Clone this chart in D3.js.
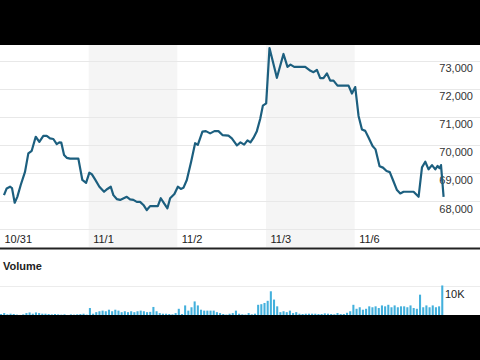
<!DOCTYPE html>
<html>
<head>
<meta charset="utf-8">
<script src="https://cdn.jsdelivr.net/npm/d3@7"></script>
<style>
  html, body { margin: 0; padding: 0; background: #000; }
  svg { display: block; }
  text { font-family: "Liberation Sans", Arial, sans-serif; }
</style>
</head>
<body>
<svg id="chart" width="480" height="360"></svg>
<script>
// trading days shown on the x axis (weekend skipped between 11/3 and 11/6)
const days = ["10/31", "11/1", "11/2", "11/3", "11/6"];

// price line: hours since start of 10/31 session (24 per day) and price
const priceHours = [1.08, 1.81, 2.71, 3.25, 3.98, 4.69, 5.61, 6.77, 7.67, 8.59,
  9.67, 10.65, 11.73, 12.65, 13.54, 14.44, 15.36, 16.06, 16.6, 17.34,
  18.07, 18.96, 21.21, 22.29, 23.3, 24.19, 24.84, 25.73, 26.9, 28.17,
  29.07, 29.99, 30.69, 31.61, 32.51, 34.32, 35.21, 36.11, 37.03, 37.92,
  38.82, 39.74, 40.63, 42.72, 43.53, 44.42, 45.32, 46.05, 47.21, 48.14,
  48.95, 49.65, 50.57, 51.74, 52.82, 53.55, 54.8, 55.72, 56.88, 58.05,
  59.13, 60.22, 61.84, 62.76, 63.2, 64.12, 65.09, 66.09, 66.99, 67.8,
  68.61, 69.53, 70.43, 71.16, 72.05, 72.95, 74.95, 76.74, 77.82, 78.64,
  79.64, 82.62, 84.05, 84.87, 85.79, 86.68, 87.57, 88.5, 89.39, 90.28,
  91.37, 94.35, 95.27, 96.16, 97.06, 97.98, 98.87, 99.76, 100.85, 101.66,
  102.75, 103.67, 104.64, 105.51, 106.37, 107.46, 108.35, 109.24, 111.95, 113.31,
  114.23, 115.12, 116.01, 116.94, 117.83, 118.46, 119.0, 119.38, 120.08];
const prices = [68210, 68450, 68510, 68460, 67940, 68150, 68570, 69040, 69700, 69790,
  70290, 70110, 70320, 70320, 70230, 70210, 70030, 70090, 70080, 69640,
  69540, 69510, 69510, 68750, 68650, 69010, 68960, 68770, 68510, 68330,
  68430, 68510, 68210, 68070, 68040, 68150, 68060, 68040, 67970, 67970,
  67860, 67680, 67820, 67820, 68100, 67920, 67740, 68100, 68250, 68510,
  68430, 68470, 68750, 69400, 70060, 70000, 70470, 70490, 70410, 70490,
  70490, 70350, 70330, 70230, 70150, 69980, 70090, 70010, 70160, 70090,
  70250, 70490, 70920, 71400, 71480, 73450, 72390, 73240, 72780, 72860,
  72780, 72780, 72640, 72590, 72670, 72380, 72380, 72550, 72290, 72290,
  72110, 72110, 71830, 72060, 71030, 70550, 70500, 70260, 69960, 69840,
  69240, 69190, 69070, 69030, 68750, 68390, 68270, 68330, 68330, 68150,
  69200, 69400, 69130, 69280, 69130, 69250, 69170, 69280, 68150];

// volume bars, 28 per day, in thousands
const volumes = [
  1.3, 1.6, 1.2, 1.4, 1.3, 1.1, 1.0, 1.2, 1.6, 1.8, 1.4, 1.8, 1.6, 1.4,
  1.4, 1.3, 1.2, 1.3, 1.2, 1.1, 1.2, 1.0, 1.2, 1.1, 1.2, 1.3, 1.4, 1.1,
  3.25, 1.4, 1.9, 2.2, 2.4, 2.2, 2.7, 2.2, 2.7, 2.4, 1.9, 2.2, 1.9, 2.2,
  1.9, 2.2, 2.4, 2.2, 1.9, 2.0, 3.6, 2.2, 1.6, 1.4, 1.4, 1.3, 1.2, 1.6,
  3.0, 1.3, 4.1, 2.4, 3.5, 5.4, 4.1, 2.7, 2.4, 2.4, 2.4, 2.4, 1.9, 1.6,
  1.3, 1.1, 1.4, 1.6, 2.4, 1.4, 1.2, 1.1, 1.6, 1.2, 1.4, 4.3, 4.5, 4.9,
  5.6, 8.7, 6.0, 3.8, 1.9, 2.2, 1.9, 2.4, 1.6, 1.9, 1.4, 1.3, 1.4, 1.4,
  1.4, 1.4, 1.3, 1.3, 1.5, 1.4, 1.3, 1.2, 1.6, 1.3, 1.3, 1.7, 2.2, 4.3,
  3.0, 3.5, 2.7, 3.0, 3.8, 3.5, 3.8, 3.25, 4.1, 3.8, 4.3, 3.5, 4.1, 3.5,
  3.8, 3.8, 3.5, 4.1, 3.25, 3.0, 7.6, 3.5, 4.1, 3.5, 4.1, 3.5, 3.8, 10.6];

const priceTicks = [68000, 69000, 70000, 71000, 72000, 73000];
const volumeTicks = [10000];

function drawChart() {
    const svg = d3.select("#chart");
    svg.selectAll("*").remove();

    const W = 480, H = 360;
    const plotRight = 443.3;

    svg.append("rect").attr("width", W).attr("height", H).attr("fill", "#fff");

    const x = d3.scaleLinear()
        .domain([0, days.length * 24])
        .range([0, plotRight]);

    const y = d3.scaleLinear()
        .domain([67000, 73000])
        .range([229.1, 60.7]);

    const yVol = d3.scaleLinear()
        .domain([0, 10000])
        .range([318, 287.3]);

    // shaded bands on alternate days
    svg.append("g")
        .selectAll("rect")
        .data(days.filter((d, i) => i % 2 === 1))
        .enter().append("rect")
        .attr("x", d => x(days.indexOf(d) * 24))
        .attr("y", 40)
        .attr("width", d => x(24) - x(0))
        .attr("height", 207)
        .attr("fill", "#f5f5f5");

    // price grid
    svg.append("g")
        .selectAll("line")
        .data([67000].concat(priceTicks))
        .enter().append("line")
        .attr("x1", 0)
        .attr("x2", W)
        .attr("y1", d => Math.round(y(d)) + 0.5)
        .attr("y2", d => Math.round(y(d)) + 0.5)
        .attr("stroke", "#e8e8e8")
        .attr("stroke-width", 1);

    // right axis labels
    const yAxis = d3.axisRight(y)
        .tickValues(priceTicks)
        .tickSize(0)
        .tickPadding(0)
        .tickFormat(d3.format(","));

    const gy = svg.append("g")
        .attr("transform", "translate(473,0)")
        .call(yAxis);
    gy.select(".domain").remove();
    gy.selectAll("text")
        .attr("x", 0)
        .attr("dy", "11px")
        .attr("text-anchor", "end")
        .attr("fill", "#333")
        .style("font-size", "11px");

    // bottom axis labels
    const xAxis = d3.axisBottom(x)
        .tickValues(days.map((d, i) => i * 24))
        .tickSize(0)
        .tickPadding(0)
        .tickFormat((d, i) => days[i]);

    const gx = svg.append("g")
        .attr("transform", "translate(0,234)")
        .call(xAxis);
    gx.select(".domain").remove();
    gx.selectAll("text")
        .attr("x", 4)
        .attr("y", 0)
        .attr("dy", "9px")
        .attr("text-anchor", "start")
        .attr("fill", "#222")
        .style("font-size", "11px");

    // price line
    const points = priceHours.map((h, i) => ({ hour: h, price: prices[i] }));
    const line = d3.line()
        .x(d => x(d.hour))
        .y(d => y(d.price));

    svg.append("path")
        .datum(points)
        .attr("fill", "none")
        .attr("stroke", "#1c5f7f")
        .attr("stroke-width", 2.2)
        .attr("stroke-linejoin", "round")
        .attr("d", line);

    // separator between panels
    svg.append("line")
        .attr("x1", 0).attr("x2", W)
        .attr("y1", 248.5).attr("y2", 248.5)
        .attr("stroke", "#222")
        .attr("stroke-width", 2);

    svg.append("text")
        .attr("x", 3)
        .attr("y", 270)
        .attr("fill", "#222")
        .style("font-size", "11px")
        .style("font-weight", "bold")
        .text("Volume");

    // volume grid and label
    svg.append("g")
        .selectAll("line")
        .data(volumeTicks)
        .enter().append("line")
        .attr("x1", 0).attr("x2", W)
        .attr("y1", d => Math.round(yVol(d)) - 0.5)
        .attr("y2", d => Math.round(yVol(d)) - 0.5)
        .attr("stroke", "#ececec");

    svg.append("g")
        .selectAll("text")
        .data(volumeTicks)
        .enter().append("text")
        .attr("x", 445)
        .attr("y", d => yVol(d) + 11)
        .attr("fill", "#222")
        .style("font-size", "11px")
        .text(d => d3.format(".0s")(d).replace("k", "K"));

    // volume bars
    const xBar = d3.scaleBand()
        .domain(d3.range(volumes.length))
        .range([0, plotRight])
        .paddingInner(0.35);

    svg.append("g")
        .selectAll("rect")
        .data(volumes)
        .enter().append("rect")
        .attr("x", (d, i) => xBar(i))
        .attr("y", d => yVol(d * 1000))
        .attr("width", xBar.bandwidth())
        .attr("height", d => yVol(0) - yVol(d * 1000))
        .attr("fill", "#43b0dc");

    // letterbox bars
    svg.append("rect").attr("x", 0).attr("y", 0).attr("width", W).attr("height", 45).attr("fill", "#000");
    svg.append("rect").attr("x", 0).attr("y", 315).attr("width", W).attr("height", 45).attr("fill", "#000");
}

drawChart();
</script>
</body>
</html>
